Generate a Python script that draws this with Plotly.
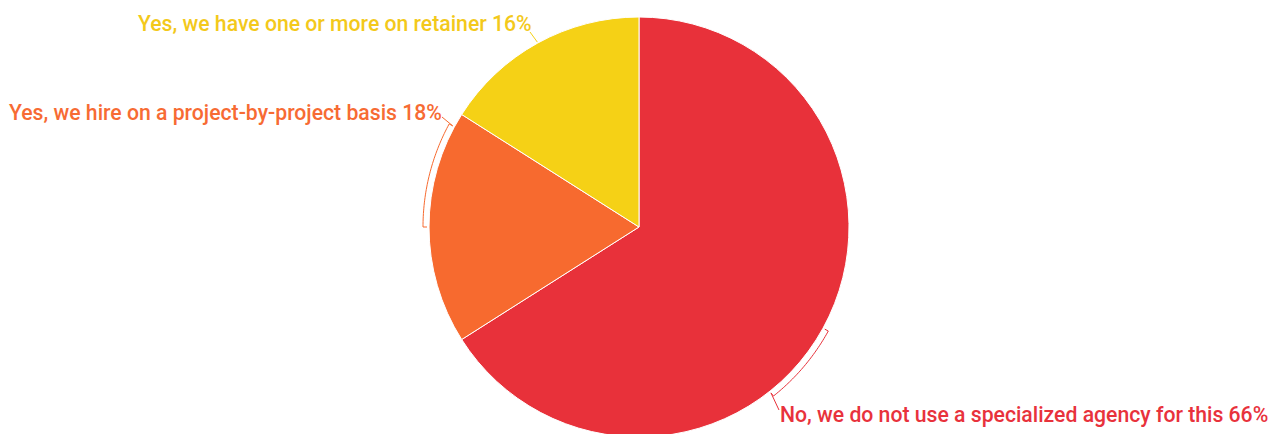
import math
import plotly.graph_objects as go

# Survey answers, in drawing order (clockwise from 12 o'clock)
labels = [
    "No, we do not use a specialized agency for this",
    "Yes, we hire on a project-by-project basis",
    "Yes, we have one or more on retainer",
]
shares = [66, 18, 16]
colors = ["#E8313A", "#F76A2F", "#F5D116"]
text_colors = ["#E8323C", "#F76B33", "#F3C91B"]

W, H = 1271, 454
CX, CY, R = 639, 227, 210  # pie centre and radius in pixels

FONT = "Roboto"
FONT_SIZE = 21.2


def px(x, y):
    return x / W, 1 - y / H


def polar_pt(angle_deg, radius):
    a = math.radians(angle_deg)
    return CX + radius * math.sin(a), CY - radius * math.cos(a)


fig = go.Figure(
    go.Pie(
        labels=labels,
        values=shares,
        sort=False,
        direction="clockwise",
        rotation=0,
        marker=dict(colors=colors, line=dict(color="#FFFFFF", width=1)),
        textinfo="none",
        hoverinfo="label+percent",
        domain=dict(x=[(CX - R) / W, (CX + R) / W], y=[0, 1]),
        showlegend=False,
    )
)

# mid-angle of each slice, measured clockwise from 12 o'clock
total = sum(shares)
mids = []
acc = 0
for v in shares:
    mids.append((acc + v / 2) / total * 360)
    acc += v

# per-label layout: angle where the bracket ends, label anchor point, alignment
label_layout = [
    dict(end=141.5, anchor=(779, 410), text_xy=(778, 414), xanchor="left"),
    dict(end=298.5, anchor=(442, 117), text_xy=(444, 112), xanchor="right"),
    dict(end=None, anchor=(530, 32), text_xy=(534, 24), xanchor="right"),
]

shapes = []
annotations = []
OFF = 6
for i, lay in enumerate(label_layout):
    mid = mids[i]
    pts = []
    if lay["end"] is None:
        pts.append(polar_pt(mid, R + 1))
        pts.append(lay["anchor"])
    else:
        pts.append(polar_pt(mid, R + 2))
        n = 40
        for k in range(n + 1):
            a = mid + (lay["end"] - mid) * k / n
            pts.append(polar_pt(a, R + OFF))
        pts.append(polar_pt(lay["end"], R + 2))
        pts.append(lay["anchor"])
    path = "M " + " L ".join(
        f"{px(x, y)[0]:.5f},{px(x, y)[1]:.5f}" for x, y in pts
    )
    shapes.append(
        dict(
            type="path",
            path=path,
            xref="paper",
            yref="paper",
            line=dict(color=colors[i], width=1),
            layer="above",
        )
    )
    tx, ty = px(*lay["text_xy"])
    annotations.append(
        dict(
            text=f"{labels[i]} {shares[i]}%",
            x=tx,
            y=ty,
            xref="paper",
            yref="paper",
            xanchor=lay["xanchor"],
            yanchor="middle",
            showarrow=False,
            font=dict(family=FONT, size=FONT_SIZE, color=text_colors[i], weight=500),
        )
    )

fig.update_layout(
    width=W,
    height=H,
    margin=dict(l=0, r=0, t=0, b=0),
    paper_bgcolor="white",
    plot_bgcolor="white",
    shapes=shapes,
    annotations=annotations,
)

fig.write_html(
    "out.html",
    post_script="document.documentElement.style.overflow='hidden';"
    "document.body.style.overflow='hidden';document.body.style.margin='0';",
)
